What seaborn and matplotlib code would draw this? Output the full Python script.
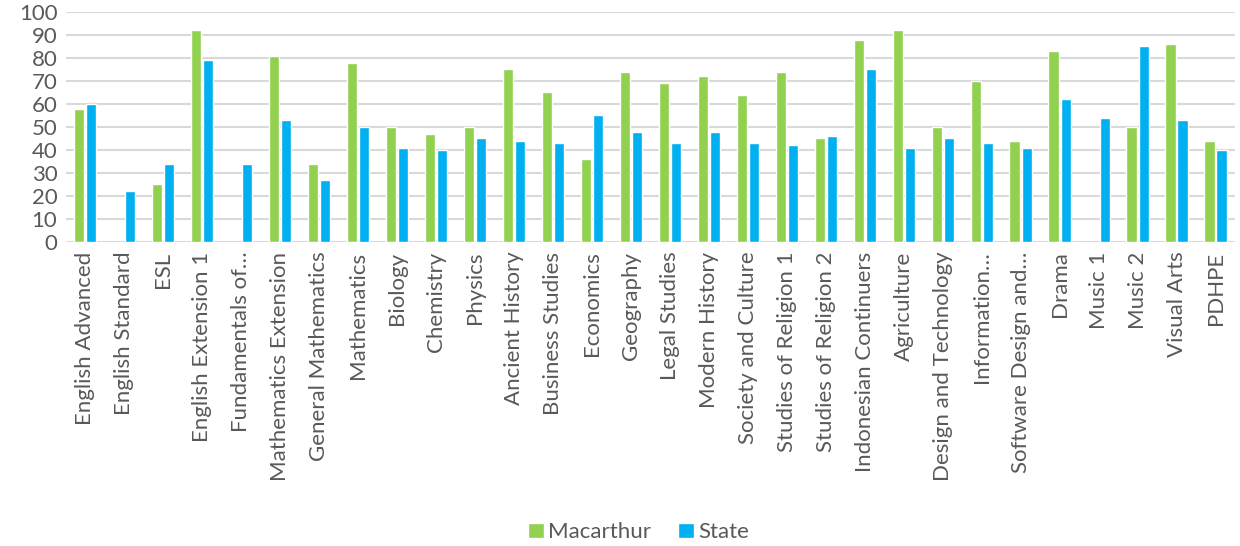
import numpy as np
import pandas as pd
import seaborn as sns
import matplotlib.pyplot as plt
from matplotlib.patches import Patch

subjects = ['English Advanced', 'English Standard', 'ESL', 'English Extension 1',
            'Fundamentals of…', 'Mathematics Extension', 'General Mathematics',
            'Mathematics', 'Biology', 'Chemistry', 'Physics', 'Ancient History',
            'Business Studies', 'Economics', 'Geography', 'Legal Studies',
            'Modern History', 'Society and Culture', 'Studies of Religion 1',
            'Studies of Religion 2', 'Indonesian Continuers', 'Agriculture',
            'Design and Technology', 'Information…', 'Software Design and…',
            'Drama', 'Music 1', 'Music 2', 'Visual Arts', 'PDHPE']
macarthur = [58, np.nan, 25, 92, np.nan, 81, 34, 78, 50, 47, 50, 75, 65, 36, 74,
             69, 72, 64, 74, 45, 88, 92, 50, 70, 44, 83, np.nan, 50, 86, 44]
state = [60, 22, 34, 79, 34, 53, 27, 50, 41, 40, 45, 44, 43, 55, 48,
         43, 48, 43, 42, 46, 75, 41, 45, 43, 41, 62, 54, 85, 53, 40]

series = ['Macarthur', 'State']
colors = ['#92D050', '#00B0F0']

df = pd.DataFrame({'Subject': subjects, 'Macarthur': macarthur, 'State': state})
long = df.melt(id_vars='Subject', var_name='Series', value_name='Value')

sns.set_style('white')
plt.rcParams['font.family'] = ['Lato', 'DejaVu Sans']

fig = plt.figure(figsize=(12.4, 5.46), dpi=100)
ax = fig.add_axes([0.053, 0.557, 0.943, 0.421])

sns.barplot(data=long, x='Subject', y='Value', hue='Series', order=subjects,
            hue_order=series, palette=colors, width=0.62, gap=0.15,
            saturation=1, errorbar=None, legend=False, ax=ax)

ax.set_ylim(0, 100)
ax.set_yticks(range(0, 101, 10))
ax.set_xlim(-0.5, len(subjects) - 0.5)
ax.set_xlabel('')
ax.set_ylabel('')
ax.yaxis.grid(True, color='#d9d9d9', linewidth=1.5)
ax.set_axisbelow(True)
for s in ax.spines.values():
    s.set_visible(False)
ax.tick_params(axis='both', length=0, colors='#595959', labelsize=16)
ax.tick_params(axis='y', pad=6)
ax.tick_params(axis='x', pad=7)
plt.setp(ax.get_xticklabels(), rotation=90)

handles = [Patch(facecolor=c, label=s) for s, c in zip(series, colors)]
fig.legend(handles=handles, loc='lower center', bbox_to_anchor=(0.515, -0.03),
           ncol=2, frameon=False, fontsize=16, handlelength=0.7,
           handleheight=0.7, handletextpad=0.2, columnspacing=1.2,
           labelcolor='#595959')

fig.savefig('out.png', dpi=100)
